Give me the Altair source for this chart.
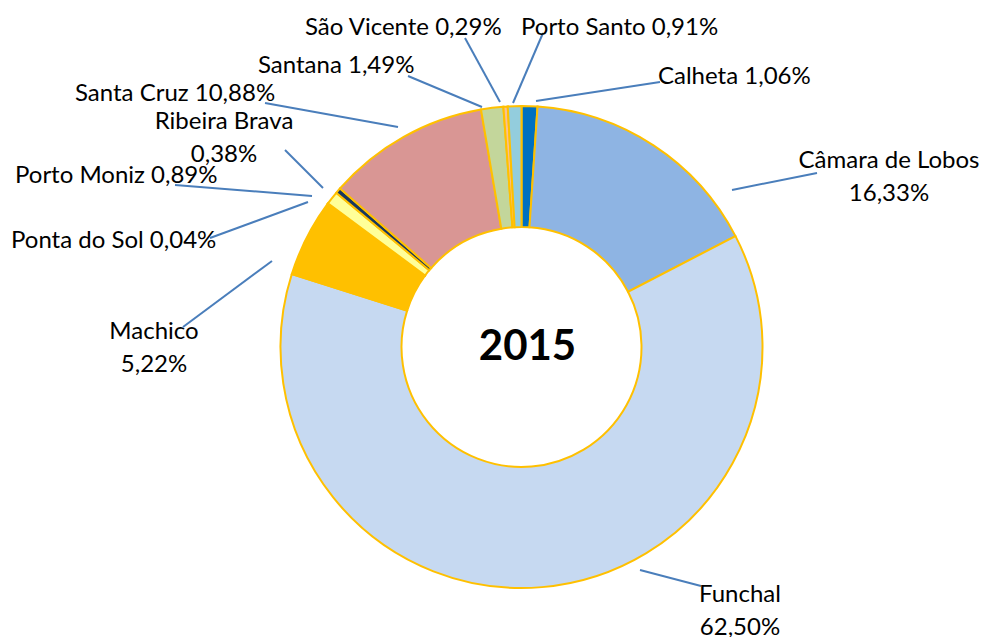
import altair as alt
import pandas as pd

# ---- data ----
municipios = ["Calheta", "Câmara de Lobos", "Funchal", "Machico", "Ponta do Sol",
              "Porto Moniz", "Ribeira Brava", "Santa Cruz", "Santana", "São Vicente",
              "Porto Santo"]
percentagens = [1.06, 16.33, 62.50, 5.22, 0.04, 0.89, 0.38, 10.88, 1.49, 0.29, 0.91]
cores = ["#0070C0", "#8EB4E3", "#C6D9F1", "#FFC000", "#E6B9B8", "#FFFF99",
         "#17375E", "#D99694", "#C3D69B", "#FAC090", "#93CDDD"]
ano = "2015"

# ---- layout (label anchors and leader lines, image pixel coordinates) ----
# name: (label x, label y of first line, align, two lines?, line x1, y1, x2, y2)
layout = {
    "Calheta":         (658, 77, "left", False, 536, 101, 660, 82),
    "Câmara de Lobos": (889, 161, "center", True, 732, 190, 817, 173),
    "Funchal":         (740, 595, "center", True, 640, 570, 701, 586),
    "Machico":         (154, 332, "center", True, 183, 327, 272, 261),
    "Ponta do Sol":    (11, 241, "left", False, 210, 238, 308, 202),
    "Porto Moniz":     (15, 176, "left", False, 175, 185, 312, 196),
    "Ribeira Brava":   (224, 122, "center", True, 285, 150, 323, 188),
    "Santa Cruz":      (75, 94, "left", False, 265, 103, 398, 127),
    "Santana":         (258, 66, "left", False, 408, 76, 482, 107),
    "São Vicente":     (305, 28, "left", False, 465, 38, 500, 102),
    "Porto Santo":     (521, 28, "left", False, 543, 33, 513, 103),
}
OFF = 8  # page margin
CX, CY = 521.5 - OFF, 347 - OFF
LINE_H = 32.5
FONT = "Lato"

def fmt(p):
    return f"{p:.2f}".replace(".", ",") + "%"

df = pd.DataFrame({"nome": municipios, "pct": percentagens, "ordem": range(len(municipios))})

label_rows, line_rows = [], []
for nome, pct in zip(municipios, percentagens):
    lx, ly, al, two, x1, y1, x2, y2 = layout[nome]
    if two:
        label_rows.append({"t": nome, "x": lx - OFF, "y": ly - OFF, "al": al})
        label_rows.append({"t": fmt(pct), "x": lx - OFF, "y": ly - OFF + LINE_H, "al": al})
    else:
        label_rows.append({"t": f"{nome} {fmt(pct)}", "x": lx - OFF, "y": ly - OFF, "al": al})
    line_rows.append({"nome": nome, "x": x1 - OFF, "y": y1 - OFF, "x2": x2 - OFF, "y2": y2 - OFF})

labels = pd.DataFrame(label_rows)
lines = pd.DataFrame(line_rows)

W, H = 974, 629

donut = alt.Chart(df).mark_arc(
    outerRadius=241, innerRadius=120, stroke="#FFC000", strokeWidth=2
).encode(
    theta=alt.Theta("pct:Q", stack=True),
    color=alt.Color("nome:N", scale=alt.Scale(domain=municipios, range=cores), legend=None),
    order=alt.Order("ordem:Q"),
    x=alt.value(CX),
    y=alt.value(CY),
)

leaders = alt.Chart(lines).mark_rule(color="#4A7EBB", strokeWidth=2).encode(
    x=alt.X("x:Q", scale=None, axis=None),
    y=alt.Y("y:Q", scale=None, axis=None),
    x2="x2:Q",
    y2="y2:Q",
)

def text_layer(align):
    sub = labels[labels["al"] == align]
    return alt.Chart(sub).mark_text(
        align=align, baseline="middle", font=FONT, fontSize=24, color="#000000"
    ).encode(
        x=alt.X("x:Q", scale=None, axis=None),
        y=alt.Y("y:Q", scale=None, axis=None),
        text="t:N",
    )

center = alt.Chart(pd.DataFrame({"t": [ano]})).mark_text(
    align="center", baseline="middle", font=FONT, fontSize=42, fontWeight="bold", color="#000000"
).encode(x=alt.value(CX + 6), y=alt.value(CY), text="t:N")

chart = alt.layer(donut, leaders, text_layer("left"), text_layer("center"), center).properties(
    width=W, height=H, autosize=alt.AutoSizeParams(type="none"), padding=0
).configure_view(stroke=None)

chart.save("out.html", embed_options={"renderer": "svg", "actions": False})
